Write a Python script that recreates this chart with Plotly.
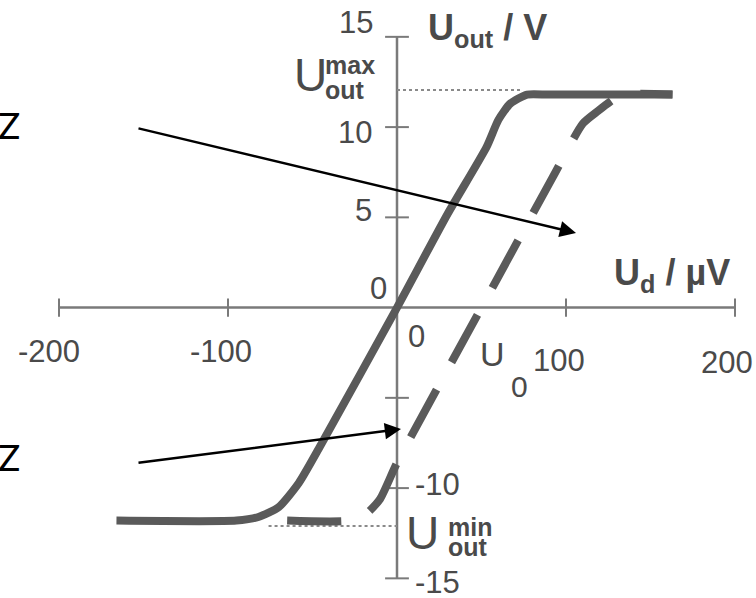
import plotly.graph_objects as go

# ---- data -----------------------------------------------------------------
# ideal amplifier characteristic (solid) : U_d in µV, U_out in V
ud_ideal = [-166, -95, -82, -70, -58, -45, 0, 30, 53, 60, 67, 77, 90, 163]
uout_ideal = [-11.8, -11.8, -11.6, -11.05, -9.7, -7.6, 0, 5.2, 8.9, 10.4, 11.3, 11.8, 11.8, 11.8]

# characteristic with input offset voltage U0 (dashed)
ud_offset = [-65, -28, -18, -10, 0, 50, 92, 110, 119, 126, 133, 163]
uout_offset = [-11.8, -11.8, -11.4, -10.6, -8.6, 0, 7.2, 10.2, 10.9, 11.4, 11.8, 11.8]

# saturation reference levels
u_out_max = 12.05
u_out_min = -12.1
ud_max_ref = [0, 73]
ud_min_ref = [-76, 0]

# axis ticks
x_ticks = [-200, -100, 100, 200]
x_tick_labels = ["-200", "-100", "100", "200"]
y_ticks = [-15, -10, -5, 5, 10, 15]
y_tick_labels = {15: "15", 10: "10", 5: "5", -10: "-10", -15: "-15"}

# ---- geometry -------------------------------------------------------------
W, H = 756, 598
X0_PX, X_SCALE = 397.0, 1.69     # pixel of U_d = 0, pixels per µV
Y0_PX, Y_SCALE = 307.6, 18.05    # pixel of U_out = 0, pixels per V
x_range = [-X0_PX / X_SCALE, (W - X0_PX) / X_SCALE]
y_range = [(Y0_PX - H) / Y_SCALE, Y0_PX / Y_SCALE]

CURVE = "#5a5a5a"
AXIS = "#7a7a7a"
TEXT = "#4a4a4a"
FONT = "Liberation Sans, Arial, sans-serif"


def paper(px, py):
    return dict(x=px / W, y=1 - py / H, xref="paper", yref="paper")


fig = go.Figure()

# axes drawn through the origin
fig.add_trace(go.Scatter(x=[x_ticks[0], x_ticks[-1]], y=[0, 0], mode="lines",
                         line=dict(color=AXIS, width=2.5)))
fig.add_trace(go.Scatter(x=[0, 0], y=[y_ticks[0], y_ticks[-1]], mode="lines",
                         line=dict(color=AXIS, width=2.5)))
fig.add_trace(go.Scatter(x=x_ticks, y=[0] * len(x_ticks), mode="markers",
                         marker=dict(symbol="line-ns", size=13,
                                     line=dict(color=AXIS, width=2))))
fig.add_trace(go.Scatter(x=[0] * len(y_ticks), y=y_ticks, mode="markers",
                         marker=dict(symbol="line-ew", size=17,
                                     line=dict(color=AXIS, width=2))))

# dotted saturation levels
fig.add_trace(go.Scatter(x=ud_max_ref, y=[u_out_max] * 2, mode="lines",
                         line=dict(color="#8a8a8a", width=2, dash="dot")))
fig.add_trace(go.Scatter(x=ud_min_ref, y=[u_out_min] * 2, mode="lines",
                         line=dict(color="#8a8a8a", width=2, dash="dot")))

# offset characteristic
fig.add_trace(go.Scatter(x=ud_offset, y=uout_offset, mode="lines",
                         line=dict(color=CURVE, width=8, dash="54px,31px",
                                   shape="spline", smoothing=0.6)))
# ideal characteristic
fig.add_trace(go.Scatter(x=ud_ideal, y=uout_ideal, mode="lines",
                         line=dict(color=CURVE, width=8,
                                   shape="spline", smoothing=0.6)))

ann = []


def label(text, px, py, size, xanchor="center", color=TEXT, family=FONT):
    ann.append(dict(text=text, showarrow=False, xanchor=xanchor, yanchor="middle",
                    font=dict(size=size, color=color, family=family), **paper(px, py)))


# x tick labels
x_label_px = {-200: (49, 351), -100: (221, 351), 100: (559, 360), 200: (727, 362)}
for v, t in zip(x_ticks, x_tick_labels):
    label(t, *x_label_px[v], 31)
# y tick labels
y_label_px = {15: (356, 23), 10: (355, 133), 5: (363, 210), -10: (437, 484), -15: (437, 582)}
for v, t in y_tick_labels.items():
    label(t, *y_label_px[v], 31)
label("0", 378, 288, 31)
label("0", 416, 336, 31)

# offset voltage marker
label("U", 492, 354, 34)
label("0", 519, 386, 30)

# saturation labels
label("U", 310, 75, 46)
label("<b>max</b>", 323, 65, 25, xanchor="left")
label("<b>out</b>", 323, 90, 25, xanchor="left")
label("U", 422, 533, 46)
label("<b>min</b>", 446, 527, 25, xanchor="left")
label("<b>out</b>", 446, 547, 25, xanchor="left")

# axis titles
label("<b>U<sub>out</sub> / V</b>", 487, 30, 36)
label("<b>U<sub>d</sub> / µV</b>", 672, 275, 36)

# pointers
label("Z", 9, 125, 37, color="black", family="Lato, sans-serif")
label("Z", 9, 456, 37, color="black", family="Lato, sans-serif")
for tip_px, tail_px in [((576, 233), (137, 128)), ((401, 429), (137, 463))]:
    ann.append(dict(x=(tip_px[0] - X0_PX) / X_SCALE, y=(Y0_PX - tip_px[1]) / Y_SCALE,
                    xref="x", yref="y", ax=tail_px[0] - tip_px[0], ay=tail_px[1] - tip_px[1],
                    axref="pixel", ayref="pixel", text="", showarrow=True,
                    arrowhead=2, arrowsize=1.3, arrowwidth=2.5, arrowcolor="black"))

fig.update_layout(
    width=W, height=H, autosize=False,
    margin=dict(l=0, r=0, t=0, b=0),
    paper_bgcolor="white", plot_bgcolor="white",
    showlegend=False,
    xaxis=dict(range=x_range, visible=False, fixedrange=True),
    yaxis=dict(range=y_range, visible=False, fixedrange=True),
    annotations=ann,
)

fig.write_html("out.html")
